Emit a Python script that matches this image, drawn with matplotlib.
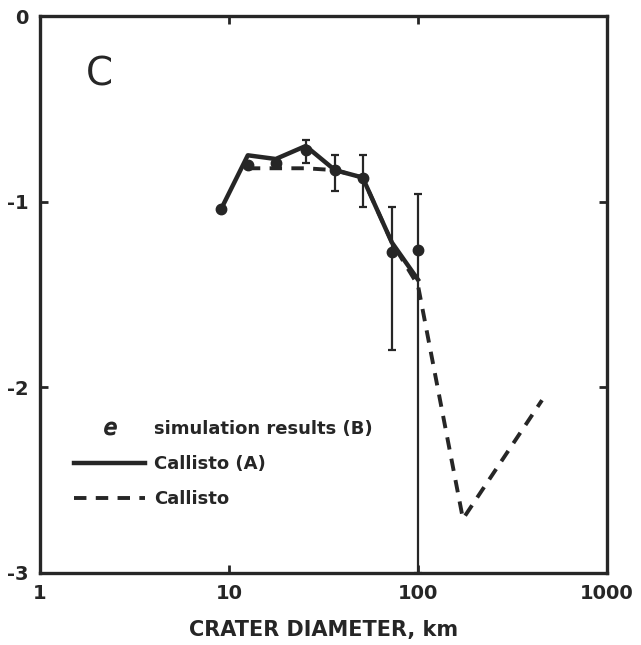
import numpy as np
import matplotlib.pyplot as plt
from matplotlib.ticker import FixedLocator, NullLocator

plt.rcParams['font.family'] = ['DejaVu Sans']
ink = '#262626'

# Callisto (A), solid line
diam_a = [9.1, 12.6, 17.7, 25.5, 36.4, 51.0, 72.8, 100.0]
logn_a = [-1.04, -0.75, -0.77, -0.70, -0.83, -0.87, -1.22, -1.42]

# Callisto, dashed line
diam_c = [12.6, 17.7, 25.5, 36.4, 51.0, 72.8, 100.0, 173.0, 453.0]
logn_c = [-0.82, -0.82, -0.82, -0.83, -0.87, -1.22, -1.45, -2.71, -2.07]

# simulation results (B) with error bars
diam_b = [9.1, 12.6, 17.7, 25.5, 36.4, 51.0, 72.8, 100.0]
logn_b = [-1.04, -0.80, -0.79, -0.72, -0.83, -0.87, -1.27, -1.26]
err_lo = [0.0, 0.0, 0.0, 0.07, 0.11, 0.16, 0.53, 1.74]
err_hi = [0.0, 0.0, 0.0, 0.05, 0.08, 0.12, 0.24, 0.30]

fig = plt.figure(figsize=(6.41, 6.45), dpi=100)
ax = fig.add_axes([0.062, 0.112, 0.885, 0.863])

ax.plot(diam_c, logn_c, color=ink, lw=2.8, ls=(0, (3.2, 2.4)), label='Callisto')
ax.plot(diam_a, logn_a, color=ink, lw=3.2, label='Callisto (A)')
ax.errorbar(diam_b, logn_b, yerr=[err_lo, err_hi], fmt='o', color=ink,
            ms=7.5, elinewidth=1.6, capsize=3, capthick=1.6)
ax.plot([], [], ls='none', marker='$e$', color=ink, ms=9,
        label='simulation results (B)')

ax.set_xscale('log')
ax.set_xlim(1, 1000)
ax.set_ylim(-3, 0)
ax.xaxis.set_major_locator(FixedLocator([1, 10, 100, 1000]))
ax.xaxis.set_minor_locator(NullLocator())
ax.set_xticklabels(['1', '10', '100', '1000'])
ax.set_yticks([-3, -2, -1, 0])
ax.set_yticklabels(['-3', '-2', '-1', '0'])
ax.tick_params(direction='in', length=6, width=2, top=True, right=True,
               labelsize=14, colors=ink, pad=8)
for lab in ax.get_xticklabels() + ax.get_yticklabels():
    lab.set_fontweight('bold')
for s in ax.spines.values():
    s.set_linewidth(2.4)
    s.set_color(ink)

ax.text(0.105, 0.895, 'C', transform=ax.transAxes, fontsize=28, color=ink,
        ha='center', va='center')

h, l = ax.get_legend_handles_labels()
order = [2, 1, 0]
leg = ax.legend([h[i] for i in order], [l[i] for i in order],
                loc='center left', bbox_to_anchor=(0.045, 0.195),
                frameon=False, borderpad=0, handlelength=3.9,
                handletextpad=0.5, labelspacing=0.95,
                prop={'weight': 'bold', 'size': 13})
for t in leg.get_texts():
    t.set_color(ink)

ax.set_xlabel('CRATER DIAMETER, km', fontsize=15, fontweight='bold',
              color=ink, labelpad=12)

fig.savefig('out.png', dpi=100)
